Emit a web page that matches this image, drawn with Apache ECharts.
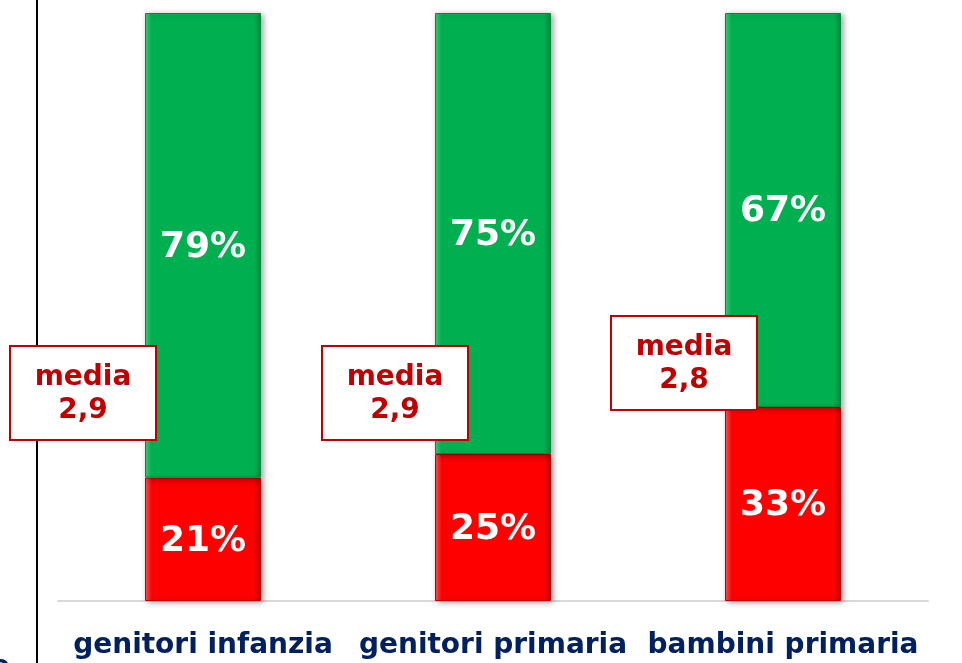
<!DOCTYPE html>
<html>
<head>
<meta charset="utf-8">
<script src="https://cdn.jsdelivr.net/npm/echarts@6/dist/echarts.min.js"></script>
<style>
	html, body { margin: 0; padding: 0; background: #fff; }
	#chart { width: 962px; height: 663px; }
</style>
</head>
<body>
<div id="chart"></div>
<script>
	var categorie = ['genitori infanzia', 'genitori primaria', 'bambini primaria'];
	var rossi = [21, 25, 33];
	var verdi = [79, 75, 67];
	var medie = ['2,9', '2,9', '2,8'];
	// posizione dei riquadri "media" (angolo in alto a sinistra)
	var boxPos = [[10, 346], [322, 346], [611, 316]];

	var chart = echarts.init(document.getElementById('chart'));

	function barStyle(c1, c2, c3) {
		return {
			color: new echarts.graphic.LinearGradient(0, 0, 1, 0, [
				{ offset: 0, color: c2 },
				{ offset: 0.06, color: c1 },
				{ offset: 0.94, color: c1 },
				{ offset: 1, color: c3 }
			]),
			borderColor: c3,
			borderWidth: 1,
			shadowColor: 'rgba(0,0,0,0.35)',
			shadowBlur: 6,
			shadowOffsetX: 2,
			shadowOffsetY: 1
		};
	}

	var pctLabel = {
		show: true,
		position: 'inside',
		color: '#fff',
		fontFamily: 'DejaVu Sans',
		fontWeight: 'bold',
		fontSize: 36,
		offset: [0, 2],
		formatter: '{c}%'
	};

	var boxes = [];
	medie.forEach(function (m, i) {
		boxes.push({
			type: 'rect',
			x: boxPos[i][0],
			y: boxPos[i][1],
			z: 100,
			shape: { width: 146, height: 94 },
			style: { fill: '#fff', stroke: '#C00000', lineWidth: 2 }
		});
		boxes.push({
			type: 'text',
			x: boxPos[i][0] + 73,
			y: boxPos[i][1] + 15,
			z: 101,
			style: {
				text: 'media\n' + m,
				align: 'center',
				fill: '#C00000',
				font: 'bold 28px "DejaVu Sans"',
				lineHeight: 33
			}
		});
	});

	chart.setOption({
		animation: false,
		grid: { left: 58, right: 34, top: 13, bottom: 62 },
		xAxis: {
			type: 'category',
			data: categorie,
			axisLine: { lineStyle: { color: '#d9d9d9', width: 2 } },
			axisTick: { show: false },
			axisLabel: {
				interval: 0,
				color: '#002060',
				fontFamily: 'DejaVu Sans',
				fontWeight: 'bold',
				fontSize: 28,
				margin: 31
			}
		},
		yAxis: {
			type: 'value',
			min: 0,
			max: 100,
			show: false
		},
		series: [
			{
				name: 'rosso',
				type: 'bar',
				stack: 'tot',
				barWidth: '40%',
				data: rossi,
				itemStyle: barStyle('#FF0000', '#ff5a5a', '#c00000'),
				label: pctLabel
			},
			{
				name: 'verde',
				type: 'bar',
				stack: 'tot',
				barWidth: '40%',
				data: verdi,
				itemStyle: barStyle('#00B050', '#3fd07e', '#008a3e'),
				label: pctLabel
			}
		],
		graphic: [
			{
				type: 'line',
				shape: { x1: 37, y1: 0, x2: 37, y2: 663 },
				style: { stroke: '#000', lineWidth: 2 }
			},
			{
				type: 'text',
				x: -9,
				y: 654,
				style: { text: 'e', fill: '#002060', font: 'bold 28px "DejaVu Sans"' }
			}
		].concat(boxes)
	});
</script>
</body>
</html>
